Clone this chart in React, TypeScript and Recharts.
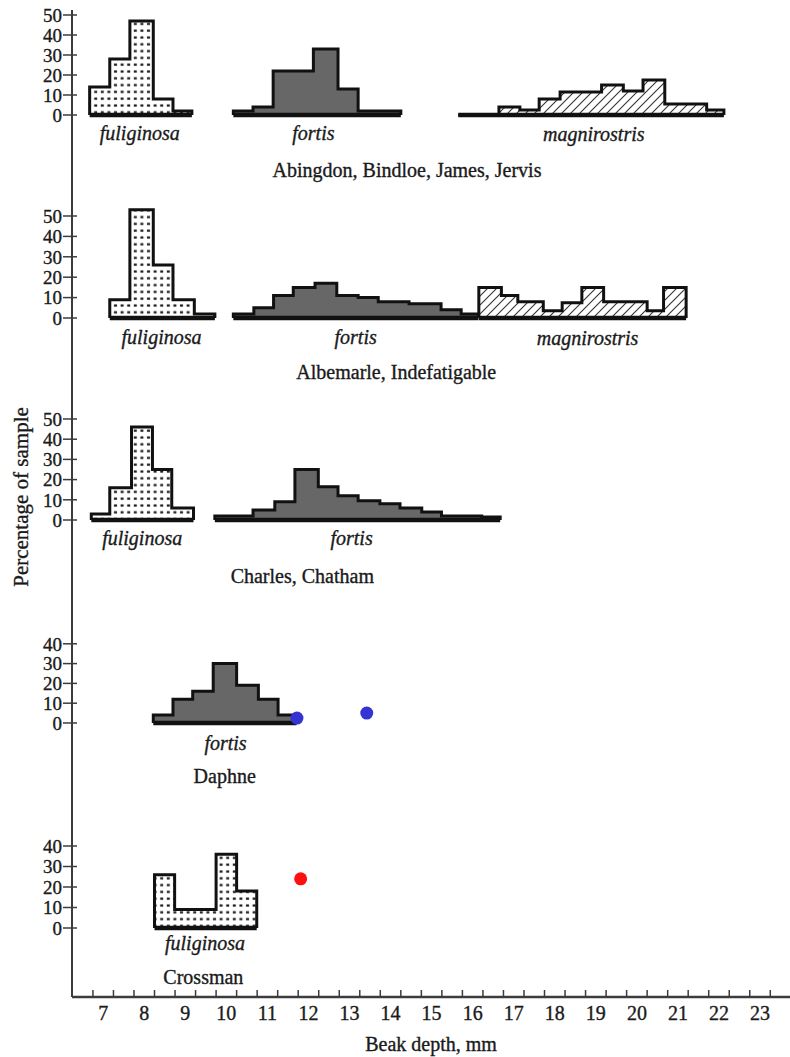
import React from "react";
import { ComposedChart, Area, Line, Scatter, XAxis, YAxis, ReferenceDot } from "recharts";

const FONT = "Liberation Serif, DejaVu Serif, serif";
const INK = "#1a1a1a";
const AXIS = "#3c3c3c";

// bin edges (beak depth, mm) and bar heights (% of sample)
// Abingdon, Bindloe, James, Jervis
const abFulEdges = [6.67, 7.16, 7.65, 8.22, 8.7, 9.16];
const abFul = [14, 28, 47, 8, 2];
const abForEdges = [10.17, 10.65, 11.14, 11.65, 12.12, 12.72, 13.21, 13.73, 14.25];
const abFor = [2, 4, 22, 22, 33, 13, 2, 2];
const abMagEdges = [15.65, 16.15, 16.64, 17.15, 17.62, 18.13, 18.63, 19.14, 19.67, 20.15, 20.68, 21.19, 21.7, 22.12];
const abMag = [0, 0, 4, 2.5, 8, 11.5, 11.5, 15, 12, 17.5, 5.5, 5.5, 2.5];

// Albemarle, Indefatigable
const alFulEdges = [7.16, 7.65, 8.22, 8.7, 9.22, 9.72];
const alFul = [9, 53, 26, 9, 2];
const alForEdges = [10.17, 10.67, 11.15, 11.63, 12.16, 12.69, 13.21, 13.7, 14.45, 15.23, 15.72, 16.14];
const alFor = [2, 5, 11, 15, 17, 11, 10, 8, 7, 4, 2];
const alMagEdges = [16.15, 16.7, 17.1, 17.72, 18.18, 18.66, 19.19, 19.72, 20.25, 20.65, 21.2];
const alMag = [15, 11, 8, 3.5, 7.5, 15, 8, 8, 3.5, 15];

// Charles, Chatham
const chFulEdges = [6.71, 7.16, 7.69, 8.2, 8.67, 9.2];
const chFul = [3, 16, 46, 25, 6];
const chForEdges = [9.72, 10.2, 10.65, 11.18, 11.67, 12.24, 12.72, 13.21, 13.74, 14.23, 14.76, 15.24, 15.73, 16.22, 16.67];
const chFor = [2, 2, 5, 9, 25, 16.5, 12, 9.5, 8, 6, 4, 2, 2, 1.5];

// Daphne
const daForEdges = [8.22, 8.7, 9.18, 9.68, 10.25, 10.78, 11.26, 11.71];
const daFor = [4, 12, 16, 30, 19, 12, 4];

// Crossman
const crFulEdges = [8.25, 8.74, 9.25, 9.75, 10.25, 10.74];
const crFul = [26, 9, 9, 36, 18];

// coloured marks drawn on top of the figure
const daphneBlueDots = [
  { x: 11.72, y: 2.5 },
  { x: 13.42, y: 5 },
];
const crossmanRedDots = [{ x: 11.81, y: 24 }];

// axis ticks
const xTickMarks = [
  6.75, 7.25, 7.75, 8.25, 8.75, 9.25, 9.75, 10.25, 10.75, 11.25, 11.75, 12.25, 12.75, 13.25, 13.75, 14.25, 14.75,
  15.25, 15.75, 16.25, 16.75, 17.25, 17.75, 18.25, 18.75, 19.25, 19.75, 20.25, 20.75, 21.25, 21.75, 22.25, 22.75, 23.25,
];
const xLabels = [7, 8, 9, 10, 11, 12, 13, 14, 15, 16, 17, 18, 19, 20, 21, 22, 23];
const yTicks50 = [0, 10, 20, 30, 40, 50];
const yTicks40 = [0, 10, 20, 30, 40];

const X_DOMAIN: [number, number] = [6.24, 23.73];
const AXIS_W = 72;

type Pt = { x: number; y: number };

function outline(edges: number[], vals: number[]): Pt[] {
  const pts: Pt[] = [{ x: edges[0], y: 0 }];
  vals.forEach((v, i) => {
    pts.push({ x: edges[i], y: v });
    pts.push({ x: edges[i + 1], y: v });
  });
  pts.push({ x: edges[edges.length - 1], y: 0 });
  return pts;
}

function baseline(edges: number[]): Pt[] {
  return [
    { x: edges[0], y: 0 },
    { x: edges[edges.length - 1], y: 0 },
  ];
}

const FILLS: Record<string, string> = {
  fuliginosa: "url(#dotFill)",
  fortis: "#676767",
  magnirostris: "url(#hatchFill)",
};

type Hist = { species: string; edges: number[]; vals: number[] };
type Txt = { text: string; x: number; y: number; italic?: boolean };

const panels: {
  top: number;
  height: number;
  marginTop: number;
  domain: [number, number];
  ticks: number[];
  hists: Hist[];
  labels: Txt[];
  title?: boolean;
  dots?: { data: Pt[]; color: string };
  bottom?: boolean;
}[] = [
  {
    top: 0,
    height: 200,
    marginTop: 10,
    domain: [-42.5, 52.5],
    ticks: yTicks50,
    hists: [
      { species: "fuliginosa", edges: abFulEdges, vals: abFul },
      { species: "fortis", edges: abForEdges, vals: abFor },
      { species: "magnirostris", edges: abMagEdges, vals: abMag },
    ],
    labels: [
      { text: "fuliginosa", x: 7.89, y: -12.5, italic: true },
      { text: "fortis", x: 12.12, y: -12.5, italic: true },
      { text: "magnirostris", x: 18.95, y: -12.8, italic: true },
      { text: "Abingdon, Bindloe, James, Jervis", x: 14.4, y: -30.8 },
    ],
  },
  {
    top: 200,
    height: 200,
    marginTop: 0,
    domain: [-40.2, 57.84],
    ticks: yTicks50,
    hists: [
      { species: "fuliginosa", edges: alFulEdges, vals: alFul },
      { species: "fortis", edges: alForEdges, vals: alFor },
      { species: "magnirostris", edges: alMagEdges, vals: alMag },
    ],
    labels: [
      { text: "fuliginosa", x: 8.42, y: -12.7, italic: true },
      { text: "fortis", x: 13.15, y: -12.7, italic: true },
      { text: "magnirostris", x: 18.8, y: -13.2, italic: true },
      { text: "Albemarle, Indefatigable", x: 14.14, y: -29.9 },
    ],
  },
  {
    top: 400,
    height: 210,
    marginTop: 0,
    domain: [-44.55, 59.4],
    ticks: yTicks50,
    title: true,
    hists: [
      { species: "fuliginosa", edges: chFulEdges, vals: chFul },
      { species: "fortis", edges: chForEdges, vals: chFor },
    ],
    labels: [
      { text: "fuliginosa", x: 7.95, y: -12.4, italic: true },
      { text: "fortis", x: 13.05, y: -12.4, italic: true },
      { text: "Charles, Chatham", x: 11.85, y: -31.2 },
    ],
  },
  {
    top: 610,
    height: 190,
    marginTop: 0,
    domain: [-38.9, 57.07],
    ticks: yTicks40,
    hists: [{ species: "fortis", edges: daForEdges, vals: daFor }],
    labels: [
      { text: "fortis", x: 9.98, y: -13.6, italic: true },
      { text: "Daphne", x: 9.96, y: -30.2 },
    ],
    dots: { data: daphneBlueDots, color: "#3434d2" },
  },
  {
    top: 800,
    height: 257,
    marginTop: 0,
    domain: [-33.66, 62.44],
    ticks: yTicks40,
    bottom: true,
    hists: [{ species: "fuliginosa", edges: crFulEdges, vals: crFul }],
    labels: [
      { text: "fuliginosa", x: 9.48, y: -10.7, italic: true },
      { text: "Crossman", x: 9.44, y: -27.3 },
    ],
    dots: { data: crossmanRedDots, color: "#ff1010" },
  },
];

const textStyle = { stroke: INK, strokeWidth: 0.35 };

const YTick = (props: any) => {
  const { x, y, payload } = props;
  return (
    <g>
      <line x1={x - 9} x2={x + 5} y1={y} y2={y} stroke={AXIS} strokeWidth={1.5} />
      <text
        x={x - 10}
        y={y}
        dy="0.36em"
        textAnchor="end"
        fontSize={19}
        fontFamily={FONT}
        fill={INK}
        style={textStyle}
      >
        {payload.value}
      </text>
    </g>
  );
};

const XTick = (props: any) => {
  const { x, y, payload } = props;
  const v = payload.value;
  if (Number.isInteger(v)) {
    return (
      <text x={x} y={y + 23} textAnchor="middle" fontSize={20} fontFamily={FONT} fill={INK} style={textStyle}>
        {v}
      </text>
    );
  }
  return <line x1={x} x2={x} y1={y} y2={y - 7} stroke={AXIS} strokeWidth={1.5} />;
};

const TextLabel = (props: any) => {
  const { viewBox, text, italic } = props;
  const cx = viewBox ? viewBox.x + (viewBox.width || 0) / 2 : props.x;
  const cy = viewBox ? viewBox.y + (viewBox.height || 0) / 2 : props.y;
  return (
    <text
      x={cx}
      y={cy}
      textAnchor="middle"
      fontSize={20}
      fontStyle={italic ? "italic" : "normal"}
      fontFamily={FONT}
      fill={INK}
      style={textStyle}
    >
      {text}
    </text>
  );
};

const YTitle = (props: any) => {
  const vb = props.viewBox;
  const cx = vb.x + 21;
  const cy = vb.y + vb.height / 2 - 8;
  return (
    <text
      x={cx}
      y={cy}
      dy="0.35em"
      transform={`rotate(-90, ${cx}, ${cy})`}
      textAnchor="middle"
      fontSize={21}
      fontFamily={FONT}
      fill={INK}
      style={textStyle}
    >
      Percentage of sample
    </text>
  );
};

const XTitle = (props: any) => {
  const vb = props.viewBox;
  return (
    <text
      x={vb.x + vb.width / 2}
      y={vb.y + 54}
      textAnchor="middle"
      fontSize={20}
      fontFamily={FONT}
      fill={INK}
      style={textStyle}
    >
      Beak depth, mm
    </text>
  );
};

export default function App() {
  return (
    <div style={{ position: "absolute", left: 0, top: 0, width: 790, height: 1057, background: "#fff" }}>
      <svg width={0} height={0} style={{ position: "absolute" }}>
        <defs>
          <pattern id="dotFill" patternUnits="userSpaceOnUse" width={6.6} height={6.8}>
            <rect width={6.6} height={6.8} fill="#fff" />
            <rect x={1.8} y={2.4} width={3} height={2.2} fill="#1a1a1a" />
          </pattern>
          <pattern id="hatchFill" patternUnits="userSpaceOnUse" width={9} height={9}>
            <rect width={9} height={9} fill="#fff" />
            <path d="M-1,10 L10,-1 M-3,3 L3,-3 M6,12 L12,6" stroke="#333" strokeWidth={1.1} />
          </pattern>
        </defs>
      </svg>
      {panels.map((p, pi) => (
        <div key={pi} style={{ position: "absolute", left: 0, top: p.top }}>
          <ComposedChart
            width={790}
            height={p.height}
            margin={{ top: p.marginTop, right: 0, bottom: 0, left: 0 }}
          >
            <XAxis
              type="number"
              dataKey="x"
              domain={X_DOMAIN}
              allowDataOverflow
              hide={!p.bottom}
              height={60}
              ticks={[...xTickMarks, ...xLabels].sort((a, b) => a - b)}
              interval={0}
              tickSize={0}
              tickMargin={0}
              tickLine={false}
              axisLine={{ stroke: AXIS, strokeWidth: 2.5 }}
              tick={<XTick />}
              label={<XTitle />}
            />
            <YAxis
              type="number"
              dataKey="y"
              domain={p.domain}
              allowDataOverflow
              ticks={p.ticks}
              interval={0}
              width={AXIS_W}
              tickSize={0}
              tickMargin={0}
              tickLine={false}
              axisLine={{ stroke: AXIS, strokeWidth: 2 }}
              tick={<YTick />}
              label={p.title ? <YTitle /> : undefined}
            />
            {p.hists.map((h, hi) => (
              <Area
                key={`a${hi}`}
                data={outline(h.edges, h.vals)}
                dataKey="y"
                type="linear"
                baseValue={0}
                fill={FILLS[h.species]}
                fillOpacity={1}
                stroke="#111"
                strokeWidth={3}
                strokeLinejoin="miter"
                dot={false}
                activeDot={false}
                isAnimationActive={false}
              />
            ))}
            {p.hists.map((h, hi) => (
              <Line
                key={`b${hi}`}
                data={baseline(h.edges)}
                dataKey="y"
                type="linear"
                stroke="#111"
                strokeWidth={4.5}
                dot={false}
                activeDot={false}
                isAnimationActive={false}
              />
            ))}
            {p.dots && (
              <Scatter
                data={p.dots.data}
                dataKey="y"
                isAnimationActive={false}
                shape={(s: any) => <circle cx={s.cx} cy={s.cy} r={6.5} fill={p.dots!.color} />}
              />
            )}
            {p.labels.map((l, li) => (
              <ReferenceDot
                key={`l${li}`}
                x={l.x}
                y={l.y}
                r={0}
                fill="none"
                stroke="none"
                ifOverflow="visible"
                label={<TextLabel text={l.text} italic={l.italic} />}
              />
            ))}
          </ComposedChart>
        </div>
      ))}
    </div>
  );
}
